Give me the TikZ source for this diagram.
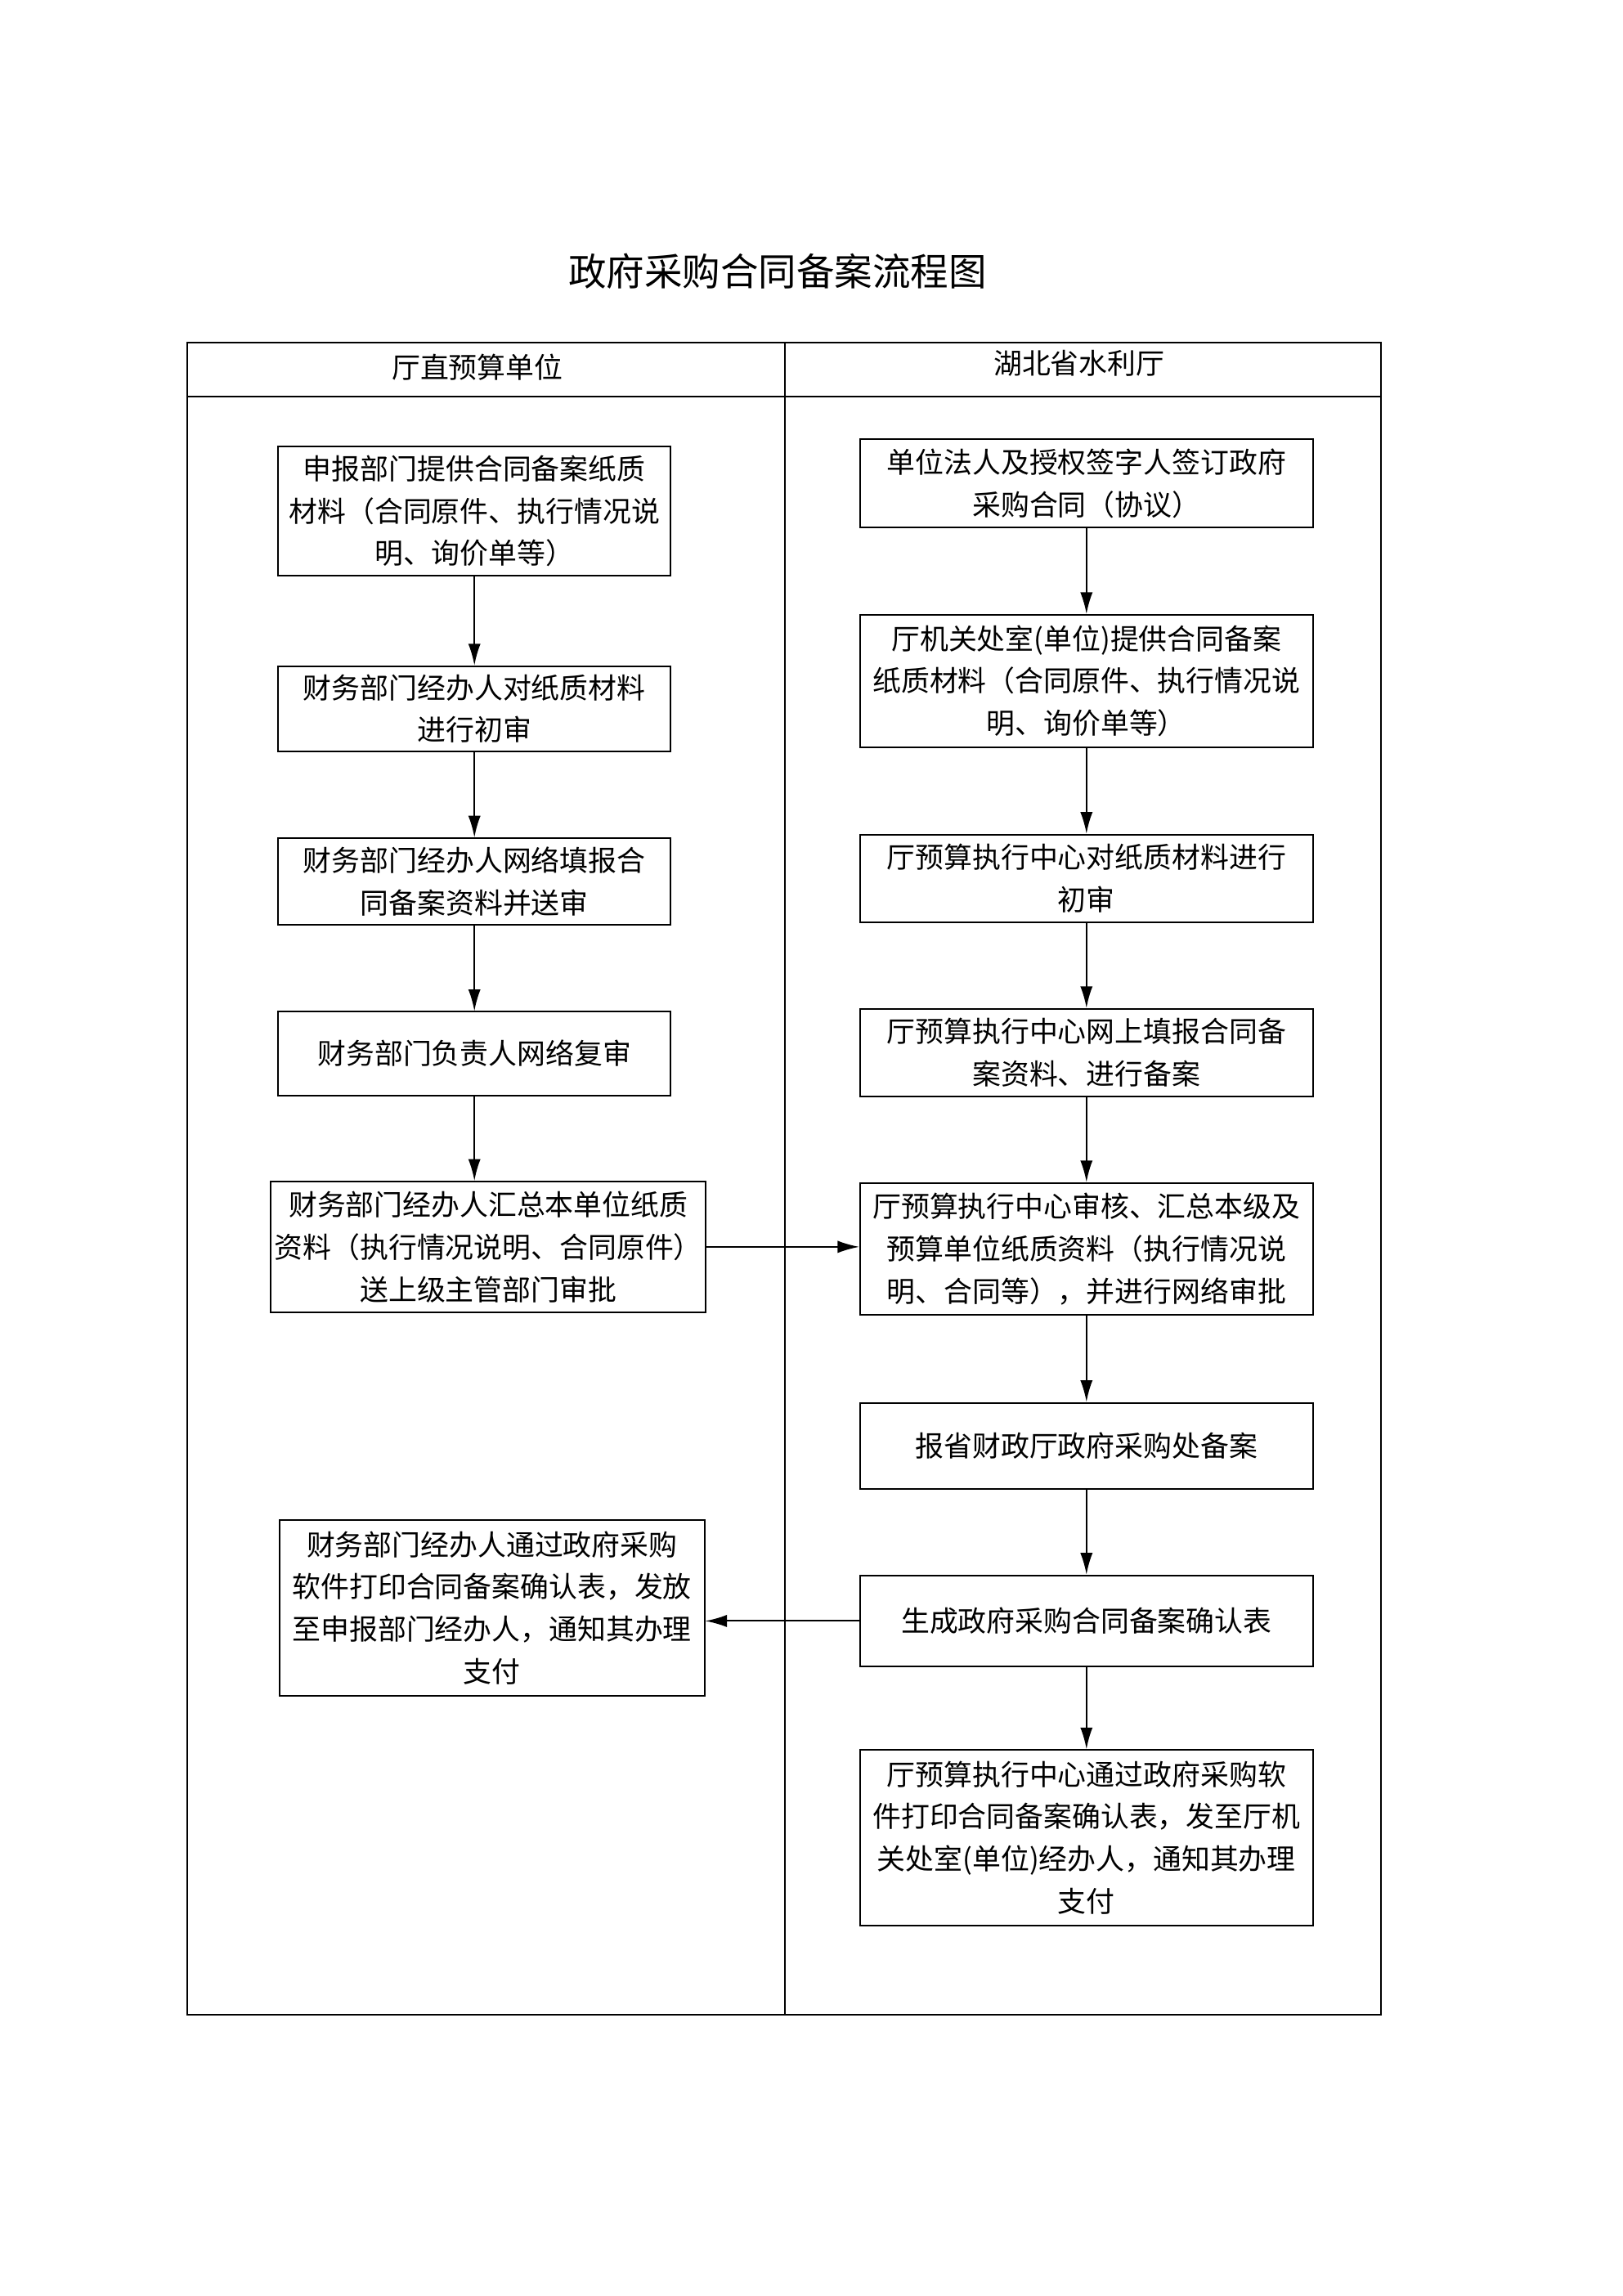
\documentclass[tikz,border=0pt]{standalone}
\usepackage{fontspec}
\setmainfont{Noto Sans CJK SC}
\usepackage{tikz}
\usetikzlibrary{arrows.meta}

\begin{document}
\begin{tikzpicture}[x=0.018953cm, y=-0.018953cm, line width=0.6pt,
    box/.style={draw=black, align=center, inner sep=0pt, minimum width=#1,
        font=\fontsize{10.5pt}{15.6pt}\selectfont},
    lbox/.style={box=5.08cm},
    rbox/.style={box=5.86cm},
    head/.style={font=\fontsize{10.5pt}{15.6pt}\selectfont}]
    \useasboundingbox (0,0) rectangle (1108,1568);
    \node (title) at (531,185) {\fontsize{14pt}{16pt}\selectfont 政府采购合同备案流程图};

    % table
    \draw (128,234) rectangle (943,1376);
    \draw (128,271) -- (943,271);
    \draw (536,234) -- (536,1376);
    \node[head] (unit) at (326,251) {厅直预算单位};
    \node[head] (dept) at (737,248) {湖北省水利厅};

    % left column
    \node[lbox, minimum height=1.67cm] (l1) at (324,349) {申报部门提供合同备案纸质\\材料（合同原件、执行情况说\\明、询价单等）};
    \node[lbox, minimum height=1.10cm] (l2) at (324,484) {财务部门经办人对纸质材料\\进行初审};
    \node[lbox, minimum height=1.12cm] (l3) at (324,602) {财务部门经办人网络填报合\\同备案资料并送审};
    \node[lbox, minimum height=1.08cm] (l4) at (324,719.5) {财务部门负责人网络复审};
    \node[box=5.63cm, minimum height=1.69cm] (l5) at (333.5,851.5) {财务部门经办人汇总本单位纸质\\资料（执行情况说明、合同原件）\\送上级主管部门审批};
    \node[box=5.50cm, minimum height=2.27cm] (l6) at (336,1098) {财务部门经办人通过政府采购\\软件打印合同备案确认表，发放\\至申报部门经办人，通知其办理\\支付};

    % right column
    \node[rbox, minimum height=1.14cm] (r1) at (742,330) {单位法人及授权签字人签订政府\\采购合同（协议）};
    \node[rbox, minimum height=1.71cm] (r2) at (742,465) {厅机关处室(单位)提供合同备案\\纸质材料（合同原件、执行情况说\\明、询价单等）};
    \node[rbox, minimum height=1.14cm] (r3) at (742,600) {厅预算执行中心对纸质材料进行\\初审};
    \node[rbox, minimum height=1.14cm] (r4) at (742,719) {厅预算执行中心网上填报合同备\\案资料、进行备案};
    \node[rbox, minimum height=1.71cm] (r5) at (742,853) {厅预算执行中心审核、汇总本级及\\预算单位纸质资料（执行情况说\\明、合同等），并进行网络审批};
    \node[rbox, minimum height=1.12cm] (r6) at (742,987.5) {报省财政厅政府采购处备案};
    \node[rbox, minimum height=1.18cm] (r7) at (742,1107) {生成政府采购合同备案确认表};
    \node[rbox, minimum height=2.27cm] (r8) at (742,1255) {厅预算执行中心通过政府采购软\\件打印合同备案确认表，发至厅机\\关处室(单位)经办人，通知其办理\\支付};

    \draw [-{Latex[width=1.6mm,length=2.8mm]}] (l1) -- (l2);
    \draw [-{Latex[width=1.6mm,length=2.8mm]}] (l2) -- (l3);
    \draw [-{Latex[width=1.6mm,length=2.8mm]}] (l3) -- (l4);
    \draw [-{Latex[width=1.6mm,length=2.8mm]}] (l4.south) -- (l4.south |- l5.north);
    \draw [-{Latex[width=1.6mm,length=2.8mm]}] (l5.east) -- (l5.east -| r5.west);
    \draw [-{Latex[width=1.6mm,length=2.8mm]}] (r1) -- (r2);
    \draw [-{Latex[width=1.6mm,length=2.8mm]}] (r2) -- (r3);
    \draw [-{Latex[width=1.6mm,length=2.8mm]}] (r3) -- (r4);
    \draw [-{Latex[width=1.6mm,length=2.8mm]}] (r4) -- (r5);
    \draw [-{Latex[width=1.6mm,length=2.8mm]}] (r5) -- (r6);
    \draw [-{Latex[width=1.6mm,length=2.8mm]}] (r6) -- (r7);
    \draw [-{Latex[width=1.6mm,length=2.8mm]}] (r7.west) -- (r7.west -| l6.east);
    \draw [-{Latex[width=1.6mm,length=2.8mm]}] (r7) -- (r8);
\end{tikzpicture}
\end{document}
